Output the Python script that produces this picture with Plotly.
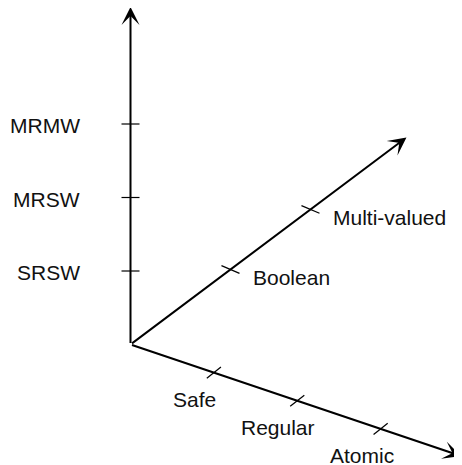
import math
import plotly.graph_objects as go

# ---- data: category labels on each of the three axes ----
vertical_labels = ["SRSW", "MRSW", "MRMW"]
horizontal_labels = ["Safe", "Regular", "Atomic"]
depth_labels = ["Boolean", "Multi-valued"]

vertical_levels = [1, 2, 3]
horizontal_levels = [1, 2, 3]
depth_levels = [1.25, 2.25]

# ---- geometry / style (window pixel space; page body has an 8px margin) ----
W, H = 462, 465
PAGE_MARGIN = 8
ORIGIN = (130.5, 344.5)
FONT = dict(family="Liberation Sans, Arial, sans-serif", size=21, color="#111111")


def unit(dx, dy):
    n = math.hypot(dx, dy)
    return dx / n, dy / n


AXES = {
    "vertical": dict(dir=(0.0, -1.0), step=73.5, length=337.5,
                     tick=(1.0, 0.0), tick_half=9.0),
    "horizontal": dict(dir=unit(330.5, 111.5), step=88.0, length=348.8,
                       tick=unit(14.3, -11.3), tick_half=9.0),
    "depth": dict(dir=unit(180.2, -135.2), step=100.0, length=345.0,
                  tick=unit(18.0, 7.7), tick_half=9.8),
}


def point(axis, dist):
    d = AXES[axis]["dir"]
    return ORIGIN[0] + d[0] * dist, ORIGIN[1] + d[1] * dist


fig = go.Figure()
annotations = []

# axis lines with arrowheads
for name, a in AXES.items():
    tip = point(name, a["length"])
    annotations.append(dict(
        x=tip[0], y=tip[1], ax=ORIGIN[0], ay=ORIGIN[1],
        xref="x", yref="y", axref="x", ayref="y",
        text="", showarrow=True, arrowhead=3, arrowsize=1.5,
        arrowwidth=2, arrowcolor="black", standoff=0,
    ))

# tick marks
for name, levels in (("vertical", vertical_levels),
                     ("horizontal", horizontal_levels),
                     ("depth", depth_levels)):
    a = AXES[name]
    xs, ys = [], []
    for lv in levels:
        cx, cy = point(name, lv * a["step"])
        tx, ty = a["tick"]
        h = a["tick_half"]
        xs += [cx - tx * h, cx + tx * h, None]
        ys += [cy - ty * h, cy + ty * h, None]
    fig.add_trace(go.Scatter(x=xs, y=ys, mode="lines",
                             line=dict(color="black", width=1.2),
                             hoverinfo="skip", showlegend=False))

# labels
for lv, lab in zip(vertical_levels, vertical_labels):
    cx, cy = point("vertical", lv * AXES["vertical"]["step"])
    annotations.append(dict(x=cx - 48.5, y=cy + 1.5, xref="x", yref="y",
                            text=lab, showarrow=False, font=FONT,
                            xanchor="right", yanchor="middle"))

for lv, lab in zip(horizontal_levels, horizontal_labels):
    cx, cy = point("horizontal", lv * AXES["horizontal"]["step"])
    annotations.append(dict(x=cx - 19, y=cy + 27, xref="x", yref="y",
                            text=lab, showarrow=False, font=FONT,
                            xanchor="center", yanchor="middle"))

for lv, lab in zip(depth_levels, depth_labels):
    cx, cy = point("depth", lv * AXES["depth"]["step"])
    annotations.append(dict(x=cx + 21, y=cy + 8.5, xref="x", yref="y",
                            text=lab, showarrow=False, font=FONT,
                            xanchor="left", yanchor="middle"))

fig.update_layout(
    width=W - PAGE_MARGIN, height=H - PAGE_MARGIN,
    margin=dict(l=0, r=0, t=0, b=0),
    paper_bgcolor="white", plot_bgcolor="white",
    xaxis=dict(range=[PAGE_MARGIN, W], visible=False, fixedrange=True),
    yaxis=dict(range=[H, PAGE_MARGIN], visible=False, fixedrange=True),
    annotations=annotations,
    showlegend=False,
)

fig.write_html("out.html")
